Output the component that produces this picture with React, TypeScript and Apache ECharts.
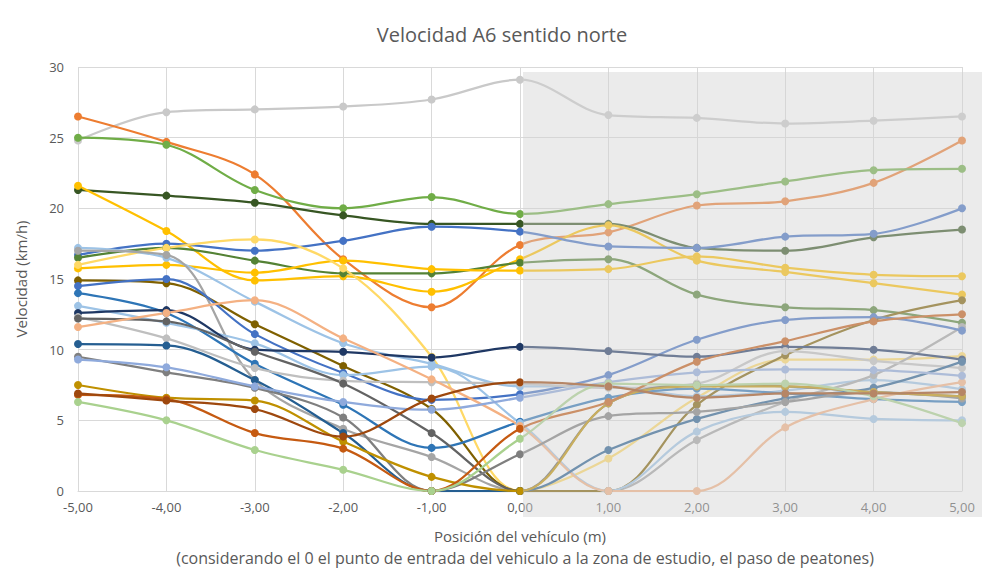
import React, { useEffect, useRef } from "react";
import * as echarts from "echarts";

const posiciones = [-5, -4, -3, -2, -1, 0, 1, 2, 3, 4, 5];
const yTicks = [0, 5, 10, 15, 20, 25, 30];

const s01 = [24.8, 26.8, 27.0, 27.2, 27.7, 29.1, 26.6, 26.4, 26.0, 26.2, 26.5];
const s02 = [26.5, 24.7, 22.4, 16.4, 13.0, 17.4, 18.3, 20.2, 20.5, 21.8, 24.8];
const s03 = [25.0, 24.5, 21.3, 20.0, 20.8, 19.6, 20.3, 21.0, 21.9, 22.7, 22.8];
const s04 = [21.3, 20.9, 20.4, 19.5, 18.9, 18.9, 18.9, 17.2, 17.0, 17.95, 18.5];
const s05 = [21.6, 18.4, 14.9, 15.2, 14.1, 16.4, 18.8, 16.3, 15.5, 14.7, 13.9];
const s06 = [16.7, 17.5, 17.0, 17.7, 18.7, 18.35, 17.3, 17.2, 18.0, 18.2, 20.0];
const s07 = [16.5, 17.2, 16.3, 15.4, 15.4, 16.15, 16.4, 13.9, 13.0, 12.8, 11.9];
const s08 = [15.75, 16.0, 15.45, 16.3, 15.7, 15.6, 15.7, 16.6, 15.8, 15.3, 15.2];
const s09 = [16.0, 17.2, 17.8, 15.75, 9.5, 0, 2.3, 6.6, 9.3, 9.3, 9.55];
const s10 = [17.2, 16.5, 13.4, 10.45, 9.0, 7.4, 7.4, 6.7, 7.1, 7.85, 7.2];
const s11 = [17.0, 16.7, 7.85, 4.4, 2.4, 0, 0, 3.6, 6.3, 8.2, 11.6];
const s12 = [14.9, 14.7, 11.8, 8.85, 5.8, 0, 0, 6.1, 9.6, 12.1, 13.5];
const s13 = [14.5, 15.0, 11.1, 8.35, 6.45, 6.85, 8.2, 10.7, 12.1, 12.3, 11.35];
const s14 = [14.0, 12.6, 9.0, 6.1, 3.05, 4.9, 6.6, 7.25, 6.9, 6.5, 6.3];
const s15 = [13.1, 11.9, 10.45, 8.2, 8.8, 4.8, 0, 4.2, 5.6, 5.1, 5.0];
const s16 = [12.6, 12.8, 10.0, 9.85, 9.45, 10.2, 9.9, 9.5, 10.2, 10.0, 9.3];
const s17 = [12.3, 10.8, 8.7, 7.8, 7.7, 7.6, 7.3, 7.6, 9.9, 9.2, 8.7];
const s18 = [12.2, 12.0, 9.85, 7.6, 4.1, 0, 6.2, 7.5, 7.4, 7.0, 6.7];
const s19 = [11.6, 12.6, 13.5, 10.8, 7.9, 4.6, 0, 0, 4.5, 6.5, 7.7];
const s20 = [10.4, 10.3, 7.85, 4.1, 0, 0, 2.9, 5.1, 6.55, 7.3, 9.15];
const s21 = [9.5, 8.4, 7.3, 5.2, 0, 2.6, 5.3, 5.6, 6.3, 7.0, 6.55];
const s22 = [9.3, 8.75, 7.4, 6.3, 5.75, 6.6, 7.7, 8.4, 8.6, 8.55, 8.15];
const s23 = [7.5, 6.6, 6.4, 3.5, 1.0, 0, 6.2, 7.4, 7.4, 7.0, 6.7];
const s24 = [6.8, 6.5, 4.1, 3.0, 0, 4.4, 6.3, 9.15, 10.6, 12.0, 12.5];
const s25 = [6.3, 5.0, 2.9, 1.5, 0, 3.7, 7.6, 7.5, 7.6, 6.7, 4.8];
const s26 = [6.9, 6.4, 5.8, 3.85, 6.55, 7.7, 7.4, 6.6, 6.9, 6.9, 7.0];

const seriesValues = [
  s01, s02, s03, s04, s05, s06, s07, s08, s09, s10, s11, s12, s13,
  s14, s15, s16, s17, s18, s19, s20, s21, s22, s23, s24, s25, s26,
];

const seriesColors = [
  "#C9C9C9", "#ED7D31", "#70AD47", "#375623", "#FFC000", "#4472C4", "#548235",
  "#FFC000", "#FFD966", "#9DC3E6", "#A5A5A5", "#7F6000", "#4472C4", "#2E75B6",
  "#9DC3E6", "#1F3864", "#BFBFBF", "#636363", "#F4B183", "#255E91", "#7F7F7F",
  "#8FAADC", "#BF9000", "#C55A11", "#A9D18E", "#9E480E",
];

const fmt = (v: number) => v.toFixed(2).replace(".", ",");
const FONT = "'Open Sans', sans-serif";

export default function App() {
  const ref = useRef<HTMLDivElement>(null);
  useEffect(() => {
    if (!ref.current) return;
    const chart = echarts.init(ref.current, undefined, { renderer: "svg" });
    const series = seriesValues.map((vals, i) => ({
      name: "Serie " + (i + 1),
      type: "line",
      smooth: 0.35,
      symbol: "circle",
      symbolSize: 8,
      showSymbol: true,
      clip: true,
      z: 2,
      data: posiciones.map((p, j) => [p, vals[j]]),
      lineStyle: { width: 2.25, color: seriesColors[i] },
      itemStyle: { color: seriesColors[i] },
    }));
    chart.setOption({
      animation: false,
      textStyle: { fontFamily: FONT },
      grid: { left: 78, right: 20, top: 67, bottom: 84 },
      xAxis: {
        type: "value",
        min: -5,
        max: 5,
        interval: 1,
        axisLine: { show: true, lineStyle: { color: "#D9D9D9" } },
        axisTick: { show: false },
        splitLine: { show: true, lineStyle: { color: "#D9D9D9" } },
        axisLabel: {
          formatter: (v: number) => fmt(v),
          color: "#595959",
          fontSize: 13,
          fontFamily: FONT,
          margin: 9,
        },
        name: "Posición del vehículo (m)",
        nameLocation: "middle",
        nameGap: 37,
        nameTextStyle: { color: "#595959", fontSize: 15, fontFamily: FONT },
      },
      yAxis: {
        type: "value",
        min: 0,
        max: 30,
        interval: 5,
        axisLine: { show: false },
        axisTick: { show: false },
        splitLine: { show: true, lineStyle: { color: "#D9D9D9" } },
        axisLabel: { color: "#595959", fontSize: 13, fontFamily: FONT, margin: 14 },
        name: "Velocidad (km/h)",
        nameLocation: "middle",
        nameRotate: 90,
        nameGap: 50,
        nameTextStyle: { color: "#595959", fontSize: 15, fontFamily: FONT },
      },
      series,
    });
    const x0 = chart.convertToPixel({ xAxisIndex: 0 }, 0) as number;
    const yTop = chart.convertToPixel({ yAxisIndex: 0 }, 30) as number;
    const yBot = chart.convertToPixel({ yAxisIndex: 0 }, 0) as number;
    chart.setOption({
      graphic: [
        {
          type: "rect",
          z: 100,
          silent: true,
          shape: { x: x0 + 3, y: yTop + 5, width: 990 - (x0 + 3), height: yBot + 26 - (yTop + 5) },
          style: { fill: "rgba(211,211,211,0.45)" },
        },
        {
          type: "text",
          z: 101,
          x: x0 - 18,
          y: yTop - 33,
          style: {
            text: "Velocidad A6 sentido norte",
            fill: "#595959",
            font: "20px 'Open Sans', sans-serif",
            align: "center",
            verticalAlign: "middle",
          },
        },
        {
          type: "text",
          z: 101,
          x: x0 + 5,
          y: yBot + 67,
          style: {
            text: "(considerando el 0 el punto de entrada del vehiculo a la zona de estudio, el paso de peatones)",
            fill: "#595959",
            font: "16px 'Open Sans', sans-serif",
            align: "center",
            verticalAlign: "middle",
          },
        },
      ],
    });
    return () => chart.dispose();
  }, []);
  return (
    <div
      ref={ref}
      style={{ position: "absolute", left: 0, top: 0, width: 982, height: 575, background: "#fff" }}
    />
  );
}
